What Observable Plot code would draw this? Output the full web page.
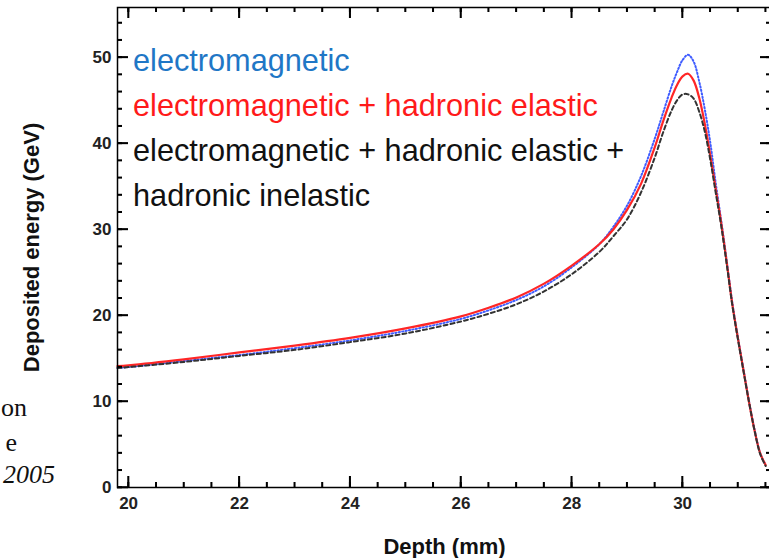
<!DOCTYPE html>
<html>
<head>
<meta charset="utf-8">
<script src="https://cdn.jsdelivr.net/npm/d3@7"></script>
<script src="https://cdn.jsdelivr.net/npm/@observablehq/plot@0.6"></script>
<style>
  html, body { margin: 0; padding: 0; background: #fff; overflow: hidden; }
  #wrap { position: relative; width: 769px; height: 558px; overflow: hidden; }
  #chart { position: absolute; left: 0; top: 0; width: 780px; }
  #chart svg { max-width: none !important; width: 780px !important; height: 558px !important; }
  .legend { position: absolute; left: 133px; top: 38px; font-family: "Liberation Sans", Arial, sans-serif; font-size: 30.7px; line-height: 45px; white-space: nowrap; }
  .frag { position: absolute; font-family: "Liberation Serif", "Times New Roman", serif; font-size: 26px; white-space: nowrap; color: #111; text-align: right; }
</style>
</head>
<body>
<div id="wrap">
  <div id="chart"></div>
  <div class="legend" id="legend"></div>
  <div class="frag" style="right:742px; top:393px;">on</div>
  <div class="frag" style="right:752px; top:428px;">e</div>
  <div class="frag" style="right:714px; top:460px; font-style:italic;">2005</div>
</div>
<script>
// Depth (mm) sample positions
const depth = [19.8, 20, 21, 22, 23, 24, 25, 26, 26.5, 27, 27.5, 28, 28.5, 28.75, 29, 29.25, 29.5, 29.65, 29.8, 29.9, 30, 30.1, 30.2, 30.3, 30.4, 30.5, 30.6, 30.7, 30.8, 30.9, 31, 31.1, 31.2, 31.3, 31.4, 31.5];
// Deposited energy (GeV)
const emOnly      = [13.9, 14.0, 14.7, 15.4, 16.2, 17.1, 18.2, 19.6, 20.6, 21.8, 23.4, 25.6, 28.3, 30.3, 32.8, 36.2, 40.6, 43.6, 46.6, 48.3, 49.7, 50.3, 49.5, 47.2, 44.0, 40.1, 35.3, 30.9, 26.2, 21.4, 17.4, 13.7, 10.0, 6.7, 4.0, 2.6];
const emHadEl     = [14.1, 14.2, 14.9, 15.7, 16.5, 17.4, 18.5, 19.9, 20.9, 22.1, 23.7, 25.8, 28.3, 30.0, 32.3, 35.3, 39.6, 42.6, 45.3, 46.8, 47.8, 48.1, 47.3, 45.3, 42.3, 38.6, 34.6, 30.6, 26.0, 21.2, 17.3, 13.6, 9.9, 6.6, 4.0, 2.6];
const emHadElInel = [13.9, 14.0, 14.6, 15.3, 16.0, 16.9, 17.9, 19.3, 20.2, 21.3, 22.8, 24.8, 27.4, 29.2, 31.2, 34.3, 38.4, 41.3, 43.8, 45.0, 45.7, 45.7, 45.2, 43.7, 41.4, 38.1, 34.2, 30.3, 25.8, 21.1, 17.2, 13.5, 9.9, 6.6, 3.9, 2.5];

const xMajorTicks = [20, 22, 24, 26, 28, 30];
const xMinorTicks = d3.range(20, 31.51, 0.5);
const yMajorTicks = [0, 10, 20, 30, 40, 50];
const yMinorTicks = d3.range(0, 55.1, 2);

const legendLines = [
  {text: "electromagnetic", color: "#1f77c6"},
  {text: "electromagnetic + hadronic elastic", color: "#ff1a1a"},
  {text: "electromagnetic + hadronic elastic +", color: "#111111"},
  {text: "hadronic inelastic", color: "#111111"}
];

const rows = (ys) => depth.map((d, i) => ({depth: d, energy: ys[i]}));

const W = 780, H = 558, mL = 117, mR = 9, mT = 7, mB = 71;
const fw = W - mL - mR, fh = H - mT - mB;
const font = {fontFamily: "Liberation Sans, Arial, sans-serif", fontSize: 17, fontWeight: "bold"};
const tickStyle = {stroke: "#000", strokeWidth: 1.5};

const plot = Plot.plot({
  width: W,
  height: H,
  marginLeft: mL,
  marginRight: mR,
  marginTop: mT,
  marginBottom: mB,
  style: {fontFamily: "Liberation Sans, Arial, sans-serif", background: "#fff", color: "#222", maxWidth: "none"},
  x: {domain: [19.8, 31.605]},
  y: {domain: [0, 55.8]},
  marks: [
    Plot.line(rows(emOnly), {x: "depth", y: "energy", stroke: "#3f5cff", strokeWidth: 2, strokeDasharray: "1.3,2.2", curve: "catmull-rom"}),
    Plot.line(rows(emHadEl), {x: "depth", y: "energy", stroke: "#ff2626", strokeWidth: 2.2, curve: "catmull-rom"}),
    Plot.line(rows(emHadElInel), {x: "depth", y: "energy", stroke: "#333", strokeWidth: 2, strokeDasharray: "4,3", curve: "catmull-rom"}),
    // tick labels
    Plot.axisX({anchor: "bottom", ticks: xMajorTicks, tickSize: 0, tickPadding: 9, label: null, ...font, fill: "#222"}),
    Plot.axisY({anchor: "left", ticks: yMajorTicks, tickSize: 0, tickPadding: 6, label: null, ...font, fill: "#222"}),
    // inward ticks: bottom, top, left, right
    Plot.tickX(xMajorTicks, {x: d => d, insetTop: fh - 11, ...tickStyle}),
    Plot.tickX(xMinorTicks, {x: d => d, insetTop: fh - 5, ...tickStyle}),
    Plot.tickX(xMajorTicks, {x: d => d, insetBottom: fh - 11, ...tickStyle}),
    Plot.tickX(xMinorTicks, {x: d => d, insetBottom: fh - 5, ...tickStyle}),
    Plot.tickY(yMajorTicks, {y: d => d, insetRight: fw - 11, ...tickStyle}),
    Plot.tickY(yMinorTicks, {y: d => d, insetRight: fw - 5, ...tickStyle}),
    Plot.tickY(yMajorTicks, {y: d => d, insetLeft: fw - 11, ...tickStyle}),
    Plot.tickY(yMinorTicks, {y: d => d, insetLeft: fw - 5, ...tickStyle}),
    Plot.frame({stroke: "#000", strokeWidth: 1.5}),
    // axis titles
    Plot.text(["Depth (mm)"], {frameAnchor: "bottom", textAnchor: "middle", lineAnchor: "middle", dy: 59, text: d => d, fontSize: 22, fontWeight: "bold", fill: "#111"}),
    Plot.text(["Deposited energy (GeV)"], {frameAnchor: "left", textAnchor: "middle", lineAnchor: "middle", dx: -86, rotate: -90, text: d => d, fontSize: 22, fontWeight: "bold", fill: "#111"})
  ]
});
document.getElementById("chart").appendChild(plot);

// Reinforce the inward ticks as thin rects placed through Plot's own scales
const sx = plot.scale("x"), sy = plot.scale("y");
const tg = d3.select(plot).append("g").attr("fill", "#000");
const fTop = mT, fBottom = H - mB, fLeft = mL, fRight = W - mR;
for (const [ticks, len] of [[xMajorTicks, 11], [xMinorTicks, 5]]) {
  for (const t of ticks) {
    const px = sx.apply(t);
    tg.append("rect").attr("x", px - 0.75).attr("width", 1.5).attr("y", fBottom - len).attr("height", len);
    tg.append("rect").attr("x", px - 0.75).attr("width", 1.5).attr("y", fTop).attr("height", len);
  }
}
for (const [ticks, len] of [[yMajorTicks, 11], [yMinorTicks, 5]]) {
  for (const t of ticks) {
    const py = sy.apply(t);
    tg.append("rect").attr("y", py - 0.75).attr("height", 1.5).attr("x", fLeft).attr("width", len);
    tg.append("rect").attr("y", py - 0.75).attr("height", 1.5).attr("x", fRight - len).attr("width", len);
  }
}

const leg = document.getElementById("legend");
for (const l of legendLines) {
  const div = document.createElement("div");
  div.textContent = l.text;
  div.style.color = l.color;
  leg.appendChild(div);
}
</script>
</body>
</html>
